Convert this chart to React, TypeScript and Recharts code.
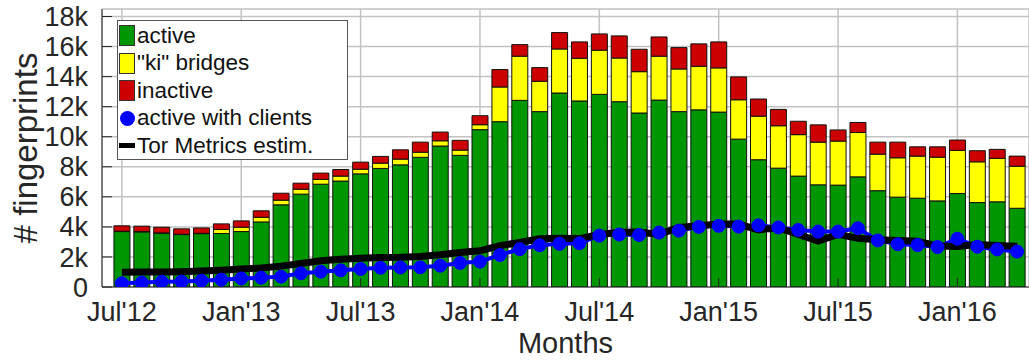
import { ComposedChart, Bar, Line, XAxis, YAxis, CartesianGrid, Label } from 'recharts'

const FONT = '"Liberation Sans", Arial, Helvetica, sans-serif'
const INK = '#262626'

const months = [
  "Jul'12", "Aug'12", "Sep'12", "Oct'12", "Nov'12", "Dec'12",
  "Jan'13", "Feb'13", "Mar'13", "Apr'13", "May'13", "Jun'13",
  "Jul'13", "Aug'13", "Sep'13", "Oct'13", "Nov'13", "Dec'13",
  "Jan'14", "Feb'14", "Mar'14", "Apr'14", "May'14", "Jun'14",
  "Jul'14", "Aug'14", "Sep'14", "Oct'14", "Nov'14", "Dec'14",
  "Jan'15", "Feb'15", "Mar'15", "Apr'15", "May'15", "Jun'15",
  "Jul'15", "Aug'15", "Sep'15", "Oct'15", "Nov'15", "Dec'15",
  "Jan'16", "Feb'16", "Mar'16", "Apr'16",
]

// bridge fingerprints per month, stacked
const active = [
  3690, 3670, 3580, 3490, 3550, 3560, 3690, 4330, 5470, 6180, 6840, 7050,
  7530, 7890, 8130, 8630, 9380, 8760, 10470, 11000, 12420, 11670, 12910, 12380,
  12820, 12330, 11580, 12440, 11670, 11790, 11640, 9840, 8470, 7910, 7380, 6800,
  6780, 7330, 6410, 5980, 5910, 5730, 6220, 5620, 5670, 5240,
]
const kiBridges = [
  20, 20, 20, 20, 20, 270, 290, 310, 310, 330, 320, 330,
  310, 350, 380, 340, 350, 350, 330, 2310, 2940, 2020, 2930, 2840,
  2940, 2910, 2750, 2920, 2840, 2900, 2940, 2620, 2900, 2820, 2760, 2840,
  2930, 2950, 2430, 2620, 2800, 2910, 2870, 2710, 2890, 2800,
]
const inactive = [
  360, 360, 380, 360, 360, 370, 420, 430, 460, 400, 420, 440,
  470, 450, 620, 670, 580, 650, 600, 1160, 770, 910, 1090, 1090,
  1080, 1470, 1490, 1280, 1420, 1490, 1730, 1520, 1140, 1090, 890, 1150,
  740, 670, 800, 1040, 620, 690, 690, 740, 600, 670,
]
const activeWithClients = [
  250, 300, 350, 360, 420, 490, 570, 620, 690, 910, 1020, 1110,
  1200, 1280, 1300, 1310, 1420, 1600, 1690, 2130, 2520, 2780, 2870, 2910,
  3420, 3490, 3460, 3620, 3750, 4000, 4070, 4020, 4100, 3960, 3800, 3690,
  3690, 3910, 3100, 2850, 2790, 2660, 3210, 2680, 2500, 2360,
]
const torMetrics = [
  980, 990, 1000, 1020, 1060, 1120, 1190, 1260, 1390, 1570, 1750, 1850,
  1910, 1970, 1980, 2030, 2140, 2290, 2410, 2750, 2960, 3210, 3240, 3220,
  3500, 3650, 3660, 3500, 3960, 4070, 4200, 4190, 3800, 3940, 3490, 3050,
  3500, 3240, 3150, 3090, 3050, 2730, 2690, 2820, 2760, 2710,
]

const monthTicks = [0, 6, 12, 18, 24, 30, 36, 42]
const countTicks = [0, 2000, 4000, 6000, 8000, 10000, 12000, 14000, 16000, 18000]

const data = months.map((month, idx) => ({
  idx,
  month,
  active: active[idx],
  ki: kiBridges[idx],
  inactive: inactive[idx],
  clients: activeWithClients[idx],
  metrics: torMetrics[idx],
}))

const fmtCount = (v: number) => (v === 0 ? '0' : `${v / 1000}k`)

const YTitle = ({ viewBox }: any) => {
  const x = viewBox.x + 37
  const y = viewBox.y + viewBox.height / 2
  return (
    <text
      x={x}
      y={y}
      transform={`rotate(-90 ${x} ${y})`}
      textAnchor="middle"
      fill={INK}
      fontSize={33}
      fontFamily={FONT}
    >
      # fingerprints
    </text>
  )
}

const legendRows = [
  { label: 'active', kind: 'box', color: '#009600' },
  { label: '"ki" bridges', kind: 'box', color: '#ffff00' },
  { label: 'inactive', kind: 'box', color: '#cc0000' },
  { label: 'active with clients', kind: 'dot', color: '#0000ff' },
  { label: 'Tor Metrics estim.', kind: 'line', color: '#000000' },
]

const LegendBox = () => (
  <div
    style={{
      position: 'absolute',
      left: 117,
      top: 20,
      width: 231,
      height: 140,
      boxSizing: 'border-box',
      border: '1px solid #555',
      background: '#fff',
      paddingTop: 1,
    }}
  >
    {legendRows.map((r) => (
      <div key={r.label} style={{ display: 'flex', alignItems: 'center', height: 27.5 }}>
        <div style={{ width: 16, height: 21, marginLeft: 1, display: 'flex', alignItems: 'center', justifyContent: 'center' }}>
          {r.kind === 'box' && (
            <div style={{ width: 16, height: 21, boxSizing: 'border-box', border: '1px solid #333', background: r.color }} />
          )}
          {r.kind === 'dot' && (
            <div style={{ width: 15, height: 15, borderRadius: '50%', background: r.color }} />
          )}
          {r.kind === 'line' && <div style={{ width: 16, height: 5, background: r.color }} />}
        </div>
        <span style={{ marginLeft: 2, fontSize: 22.5, lineHeight: 1, color: '#111', fontFamily: FONT }}>
          {r.label}
        </span>
      </div>
    ))}
  </div>
)

export default function App() {
  const tickStyle = { fill: INK, fontSize: 27, fontFamily: FONT }
  return (
    <div style={{ position: 'absolute', left: 0, top: 0, width: 1029, height: 360, fontFamily: FONT }}>
      <ComposedChart width={1029} height={360} data={data} margin={{ top: 9, right: 0, bottom: 0, left: 0 }}>
        <CartesianGrid stroke="#c2c2c2" strokeWidth={1.5} />
        <XAxis
          dataKey="idx"
          type="number"
          domain={[-1, 45.6]}
          allowDataOverflow
          ticks={monthTicks}
          interval={0}
          tickFormatter={(v: number) => months[v]}
          height={73}
          tickSize={-9}
          tickMargin={23.5}
          stroke={INK}
          tick={tickStyle}
        >
          <Label value="Months" position="insideBottom" offset={7} style={{ fontSize: 29, fill: INK, fontFamily: FONT }} />
        </XAxis>
        <XAxis
          xAxisId="top"
          orientation="top"
          dataKey="idx"
          type="number"
          domain={[-1, 45.6]}
          allowDataOverflow
          ticks={monthTicks}
          interval={0}
          tickFormatter={() => ''}
          height={0}
          tickSize={-9}
          stroke={INK}
        />
        <YAxis
          type="number"
          domain={[0, 18500]}
          allowDataOverflow
          ticks={countTicks}
          interval={0}
          tickFormatter={fmtCount}
          width={102}
          tickSize={-10}
          tickMargin={24}
          stroke={INK}
          tick={tickStyle}
        >
          <Label content={<YTitle />} />
        </YAxis>
        <YAxis
          yAxisId="right"
          orientation="right"
          type="number"
          domain={[0, 18500]}
          allowDataOverflow
          ticks={countTicks}
          interval={0}
          tickFormatter={() => ''}
          width={0}
          tickSize={-10}
          stroke={INK}
        />
        <Bar dataKey="active" stackId="s" fill="#009600" stroke="#111" strokeWidth={1} barSize={16} isAnimationActive={false} />
        <Bar dataKey="ki" stackId="s" fill="#ffff00" stroke="#111" strokeWidth={1} barSize={16} isAnimationActive={false} />
        <Bar dataKey="inactive" stackId="s" fill="#cc0000" stroke="#111" strokeWidth={1} barSize={16} isAnimationActive={false} />
        <Line
          dataKey="clients"
          stroke="#0000ff"
          strokeWidth={4}
          dot={{ r: 6.5, fill: '#0000ff', stroke: '#0000ff', strokeWidth: 1 }}
          isAnimationActive={false}
        />
        <Line dataKey="metrics" stroke="#000" strokeWidth={7} dot={false} isAnimationActive={false} />
      </ComposedChart>
      <LegendBox />
    </div>
  )
}
